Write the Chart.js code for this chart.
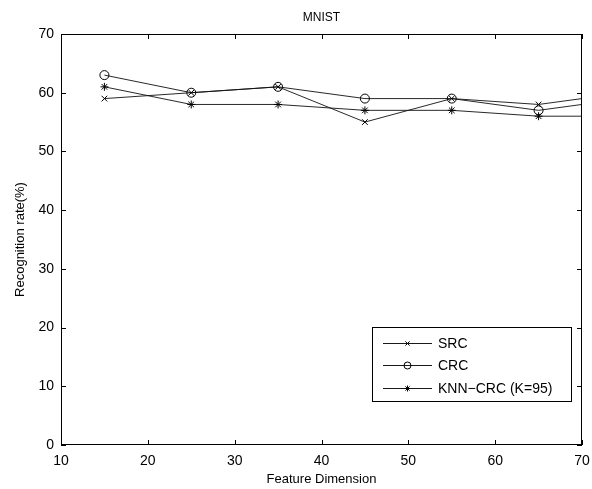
<!DOCTYPE html>
<html>
<head>
<meta charset="utf-8">
<script src="https://cdn.jsdelivr.net/npm/chart.js@4.4.0/dist/chart.umd.min.js"></script>
<style>
  html, body { margin: 0; padding: 0; background: #fff; }
  #wrap { width: 592px; height: 489px; }
</style>
</head>
<body>
<div id="wrap"><canvas id="mnistChart" width="592" height="489"></canvas></div>
<script>
// values (last point lies past the right edge, only its line shows)
const dims = [15, 25, 35, 45, 55, 65, 75];
const srcRate = [59, 60, 61, 55, 59, 58, 60];
const crcRate = [63, 60, 61, 59, 59, 57, 59];
const knnRate = [61, 58, 58, 57, 57, 56, 56];

const xTicks = [10, 20, 30, 40, 50, 60, 70];
const yTicks = [0, 10, 20, 30, 40, 50, 60, 70];

const seriesNames = ['SRC', 'CRC', 'KNN\u2212CRC (K=95)'];
const seriesMarkers = ['crossRot', 'circle', 'star'];

const FONT = '"Liberation Sans", Arial, Helvetica, sans-serif';

const toPoints = (vals) => dims.map((d, i) => ({ x: d, y: vals[i] }));

// MATLAB style box with inward ticks on all four sides
const boxPlugin = {
  id: 'matlabBox',
  afterDraw(chart) {
    const { ctx, chartArea: a, scales } = chart;
    ctx.save();
    ctx.strokeStyle = '#000';
    ctx.lineWidth = 1;
    ctx.strokeRect(Math.round(a.left) + 0.5, Math.round(a.top) + 0.5,
      Math.round(a.right - a.left) - 1, Math.round(a.bottom - a.top) - 1);
    const tl = 5;
    ctx.beginPath();
    xTicks.forEach(v => {
      const px = Math.round(scales.x.getPixelForValue(v)) + 0.5;
      ctx.moveTo(px, a.bottom); ctx.lineTo(px, a.bottom - tl);
      ctx.moveTo(px, a.top); ctx.lineTo(px, a.top + tl);
    });
    yTicks.forEach(v => {
      const py = Math.round(scales.y.getPixelForValue(v)) + 0.5;
      ctx.moveTo(a.left, py); ctx.lineTo(a.left + tl, py);
      ctx.moveTo(a.right, py); ctx.lineTo(a.right - tl, py);
    });
    ctx.stroke();

    // legend box in the lower right corner
    const lx = 372, ly = 327, lw = 199, lh = 74;
    ctx.fillStyle = '#fff';
    ctx.fillRect(lx, ly, lw, lh);
    ctx.strokeRect(lx + 0.5, ly + 0.5, lw, lh);
    ctx.font = '14px ' + FONT;
    ctx.textBaseline = 'middle';
    const rows = [343, 365, 388];
    chart.data.datasets.forEach((ds, i) => {
      const y = rows[i];
      ctx.strokeStyle = '#000';
      ctx.lineWidth = 0.9;
      ctx.beginPath();
      ctx.moveTo(383, y + 0.5); ctx.lineTo(432, y + 0.5);
      ctx.stroke();
      ctx.fillStyle = 'rgba(0,0,0,0)';
      ctx.lineWidth = 1;
      Chart.helpers.drawPoint(ctx, {
        pointStyle: ds.pointStyle, radius: ds.pointStyle === 'circle' ? 3.5 : 3, borderWidth: 1, rotation: 0
      }, 407.5, y + 0.5);
      ctx.fillStyle = '#000';
      ctx.fillText(seriesNames[i], 438, y + 1);
    });
    ctx.restore();
  }
};

const makeSet = (i, vals) => ({
  label: seriesNames[i],
  data: toPoints(vals),
  borderColor: '#111',
  borderWidth: 0.9,
  backgroundColor: 'rgba(0,0,0,0)',
  pointStyle: seriesMarkers[i],
  pointRadius: seriesMarkers[i] === 'circle' ? 4.5 : 4,
  pointBorderColor: '#000',
  pointBorderWidth: 1,
  pointBackgroundColor: 'rgba(0,0,0,0)',
  tension: 0,
  fill: false
});

new Chart(document.getElementById('mnistChart'), {
  type: 'line',
  data: {
    datasets: [makeSet(0, srcRate), makeSet(1, crcRate), makeSet(2, knnRate)]
  },
  options: {
    responsive: false,
    animation: false,
    layout: { padding: { left: 0, right: 10, top: 0, bottom: 0 } },
    plugins: {
      legend: { display: false },
      tooltip: { enabled: false },
      title: {
        display: true,
        text: 'MNIST',
        fullSize: false,
        color: '#000',
        font: { family: FONT, size: 12, weight: 'normal' },
        padding: { top: 10, bottom: 9.6 }
      }
    },
    scales: {
      x: {
        type: 'linear',
        min: 10,
        max: 70,
        afterBuildTicks: (s) => { s.ticks = xTicks.map(v => ({ value: v })); },
        afterFit: (s) => { s.height = 44; s.paddingLeft = 0; s.paddingRight = 0; },
        grid: { display: false, drawTicks: false },
        border: { display: false },
        ticks: { color: '#000', padding: 8, font: { family: FONT, size: 14 } },
        title: {
          display: true,
          text: 'Feature Dimension',
          color: '#000',
          font: { family: FONT, size: 13 },
          padding: { top: 0, bottom: 2 }
        }
      },
      y: {
        type: 'linear',
        min: 0,
        max: 70,
        afterBuildTicks: (s) => { s.ticks = yTicks.map(v => ({ value: v })); },
        afterFit: (s) => { s.width = 61; s.paddingTop = 0; s.paddingBottom = 0; },
        grid: { display: false, drawTicks: false },
        border: { display: false },
        ticks: { color: '#000', padding: 7, font: { family: FONT, size: 14 } },
        title: {
          display: true,
          text: 'Recognition rate(%)',
          color: '#000',
          font: { family: FONT, size: 13 },
          padding: { top: 13, bottom: 0 }
        }
      }
    }
  },
  plugins: [boxPlugin]
});
</script>
</body>
</html>
